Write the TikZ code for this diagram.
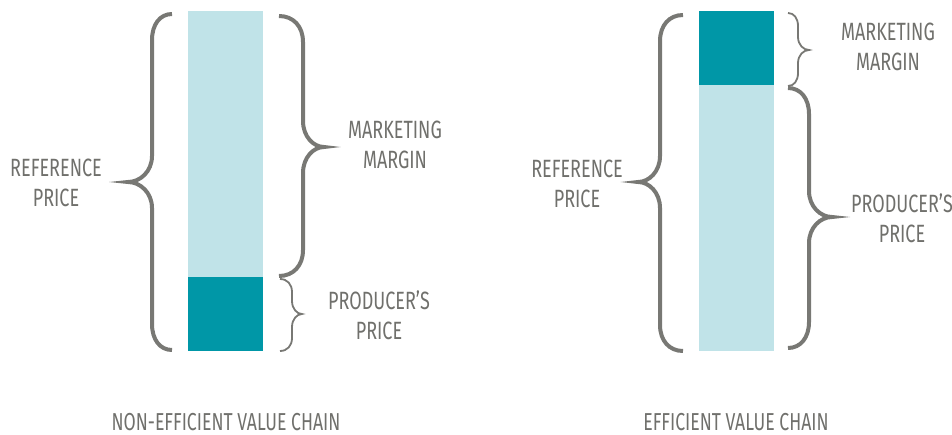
\documentclass[tikz,border=0pt]{standalone}
\usepackage{fontspec}
\setmainfont{Fira Sans}[FakeStretch=0.72]
\usetikzlibrary{positioning}

\definecolor{barlight}{RGB}{192,227,232}
\definecolor{bardark}{RGB}{0,151,167}
\definecolor{bracegray}{RGB}{120,120,116}
\definecolor{textgray}{RGB}{112,112,108}

% curly brace: style, end x, stem x, tip x, top y, tip y, bottom y, curl length
\newcommand{\curlybrace}[8]{%
  \draw[#1] (#2,#5) .. controls ({#3+0.4*(#2-#3)},#5) and (#3,{#5+0.4*#8}) .. (#3,{#5+#8})
    -- (#3,{#6-#8}) .. controls (#3,{#6-0.4*#8}) and ({#4+0.5*(#3-#4)},#6) .. (#4,#6)
    .. controls ({#4+0.5*(#3-#4)},#6) and (#3,{#6+0.4*#8}) .. (#3,{#6+#8})
    -- (#3,{#7-#8}) .. controls (#3,{#7-0.4*#8}) and ({#3+0.4*(#2-#3)},#7) .. (#2,#7);}

\begin{document}
\begin{tikzpicture}[x=1pt,y=-1pt]

\tikzset{lightbar/.style={fill=barlight,inner sep=0pt,outer sep=0pt,minimum width=75pt,shape=rectangle},
darkbar/.style={fill=bardark,inner sep=0pt,outer sep=0pt,minimum width=75pt,shape=rectangle},
bigbrace/.style={draw=bracegray,line width=4pt},
smallbrace/.style={draw=bracegray,line width=1.8pt},
txt/.style={text=textgray,align=center,inner sep=0pt,font=\fontsize{25}{30}\selectfont},
titletxt/.style={text=textgray,inner sep=0pt,font=\fontsize{24.5}{30}\selectfont}}

\useasboundingbox (0,0) rectangle (952,434);

% Non-efficient chain bars
\node (marginbar) [lightbar,minimum height=266pt,anchor=north west] at (188,11) {};
\node (producerbar) [below=0pt of marginbar,darkbar,minimum height=74pt] {};

% Efficient chain bars
\node (effmarginbar) [darkbar,minimum height=74pt,anchor=north west] at (699,11) {};
\node (effproducerbar) [below=0pt of effmarginbar,lightbar,minimum height=266pt] {};

% Braces, non-efficient chain
\curlybrace{bigbrace}{172}{152}{128}{14}{182}{350}{26}
\curlybrace{bigbrace}{279}{303}{324}{16}{147}{276}{26}
\curlybrace{smallbrace}{280}{292}{302}{279}{314}{351}{13}

% Braces, efficient chain
\curlybrace{bigbrace}{683}{660}{638}{15}{182}{351}{26}
\curlybrace{smallbrace}{788}{798}{809}{13}{50}{86}{13}
\curlybrace{bigbrace}{788}{809}{832}{88}{217}{348}{26}

% Labels, non-efficient chain
\node (refprice) [txt] at (56,183) {REFERENCE\\PRICE};
\node (margin) [txt] at (395,145) {MARKETING\\MARGIN};
\node (producer) [txt] at (379,315) {PRODUCER’S\\PRICE};
\node (title) [titletxt] at (226,422) {NON-EFFICIENT VALUE CHAIN};

% Labels, efficient chain
\node (effrefprice) [txt] at (577,184) {REFERENCE\\PRICE};
\node (effmargin) [txt] at (888,47) {MARKETING\\MARGIN};
\node (effproducer) [txt] at (902,218) {PRODUCER’S\\PRICE};
\node (efftitle) [titletxt] at (736,422) {EFFICIENT VALUE CHAIN};

\end{tikzpicture}
\end{document}
